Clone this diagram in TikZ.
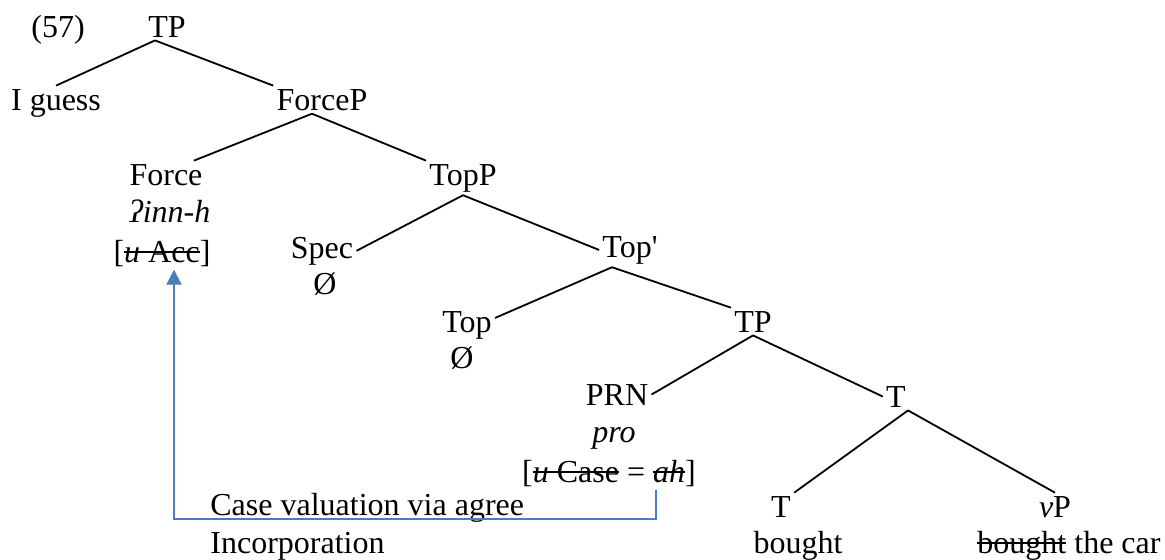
\documentclass[tikz,border=0pt]{standalone}
\usepackage{fontspec}
\setmainfont{Liberation Serif}
\usetikzlibrary{arrows.meta}
\definecolor{agreeblue}{HTML}{4A7EBB}
\newcommand{\struck}[1]{\setbox0\hbox{#1}\rlap{\rule[0.27em]{\wd0}{0.06em}}\box0\relax}

\begin{document}
\begin{tikzpicture}[x=0.5pt,y=-0.5pt,font=\fontsize{16}{19}\selectfont,
    lbl/.style={anchor=base,inner sep=1.5pt},
    note/.style={anchor=base west,inner sep=1.5pt},
    branch/.style={line width=0.9pt},
    agreeline/.style={draw=agreeblue,line width=1pt,
      -{Triangle[length=7.5pt,width=7.5pt]}}]
  \useasboundingbox (0,0) rectangle (1165,559);
  % labels
  \node[lbl] (exnum) at (58,37) {(57)};
  \node[lbl] (tp) at (167,37) {TP};
  \node[lbl] (iguess) at (56,110) {I guess};
  \node[lbl] (forcep) at (322,110) {ForceP};
  \node[lbl] (force) at (166,185) {Force};
  \node[lbl] (forcehead) at (170,222) {\textit{ʔinn-h}};
  \node[lbl] (forceacc) at (162,262) {[\struck{\textit{u} Acc}]};
  \node[lbl] (topp) at (463,185) {TopP};
  \node[lbl] (spec) at (322,258) {Spec};
  \node[lbl] (specnull) at (325,294) {Ø};
  \node[lbl] (topprime) at (630,257) {Top\textquotesingle};
  \node[lbl] (top) at (467,332) {Top};
  \node[lbl] (topnull) at (462,368) {Ø};
  \node[lbl] (tplow) at (753,332) {TP};
  \node[lbl] (prn) at (617,405) {PRN};
  \node[lbl] (prnpro) at (614,442) {\textit{pro}};
  \node[lbl] (prncase) at (609,482) {[\struck{\textit{u} Case} = \struck{\textit{ah}}]};
  \node[lbl] (tbar) at (896,407) {T};
  \node[lbl] (thead) at (781,517) {T};
  \node[lbl] (thverb) at (798,553) {bought};
  \node[lbl] (vp) at (1055,517) {\textit{v}P};
  \node[lbl] (vpverb) at (1069,553) {\struck{bought} the car};
  \node[note] (casenote) at (207,515) {Case valuation via agree};
  \node[note] (incnote) at (207,553) {Incorporation};
  % branches
  \draw[branch] ([xshift=-6pt]tp.south) -- (iguess.north);
  \draw[branch] ([xshift=-6pt]tp.south) -- (forcep.north west);
  \draw[branch] ([xshift=-5pt]forcep.south) -- ([xshift=-6pt]force.north east);
  \draw[branch] ([xshift=-5pt]forcep.south) -- (topp.north west);
  \draw[branch] (topp.south) -- (spec.east);
  \draw[branch] (topp.south) -- (topprime.west);
  \draw[branch] ([xshift=-9pt]topprime.south) -- ([yshift=3.5pt]top.east);
  \draw[branch] ([xshift=-9pt]topprime.south) -- (tplow.north west);
  \draw[branch] (tplow.south) -- (prn.east);
  \draw[branch] (tplow.south) -- (tbar.west);
  \draw[branch] ([xshift=6pt]tbar.south) -- (thead.north east);
  \draw[branch] ([xshift=6pt]tbar.south) -- (vp.north);
  % case valuation
  \coordinate (agreecorner) at (174,519);
  \draw[agreeline] ([xshift=23.5pt]prncase.south) |- (agreecorner)
    -- (agreecorner |- forceacc.south);
\end{tikzpicture}
\end{document}
